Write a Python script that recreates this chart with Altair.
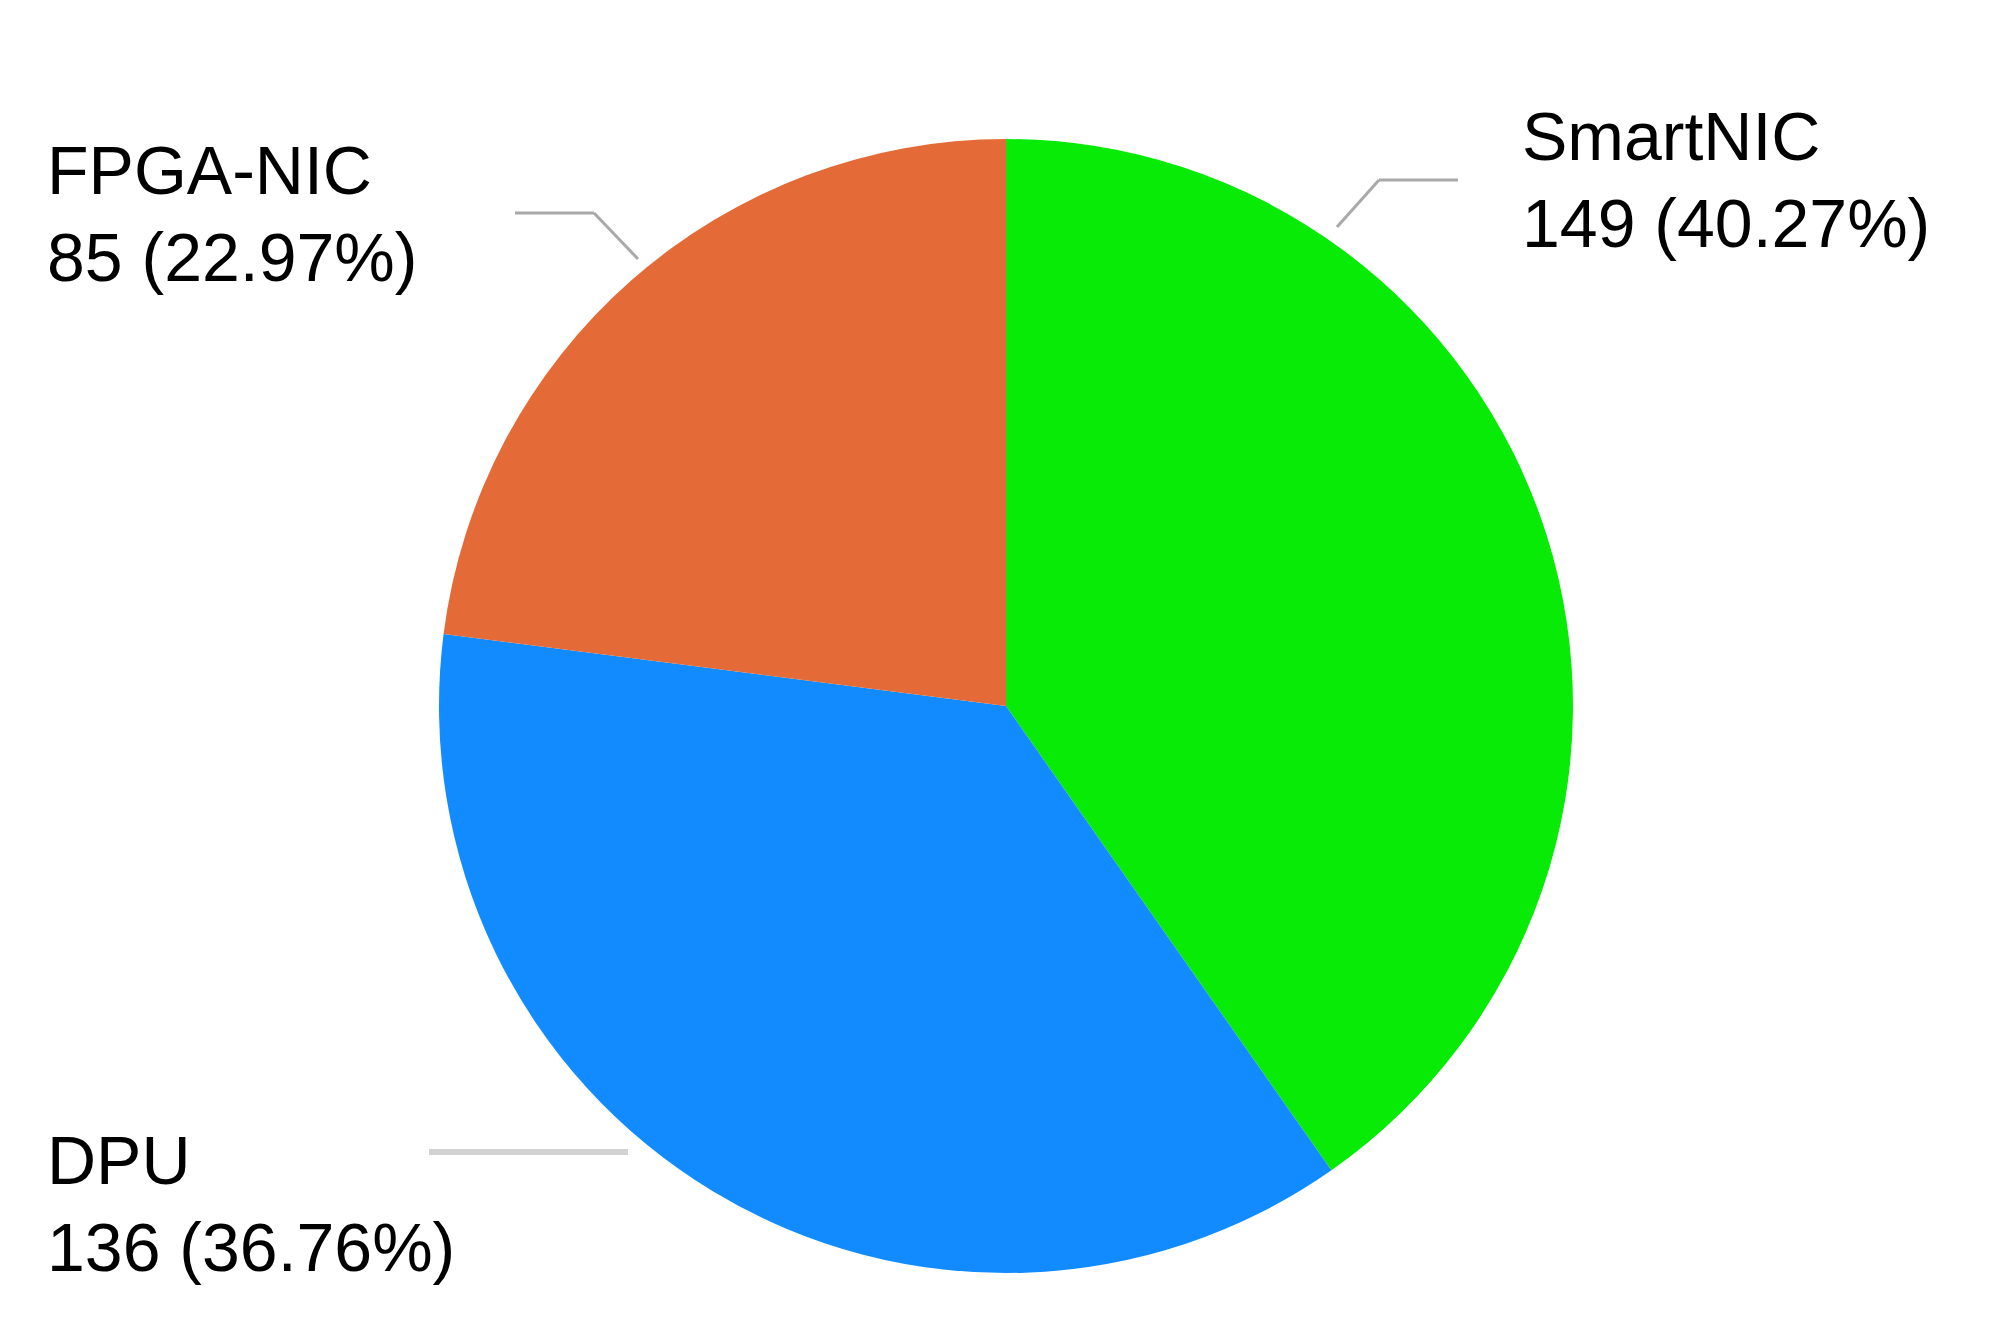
import altair as alt
import pandas as pd

# ---- data ----
categories = ["SmartNIC", "DPU", "FPGA-NIC"]
counts = [149, 136, 85]
colors = ["#07EB07", "#118BFF", "#E46B38"]

total = sum(counts)
df = pd.DataFrame({
    "category": categories,
    "count": counts,
    "order": list(range(len(categories))),
})
df["label"] = [f"{c}\n{v} ({v / total * 100:.2f}%)" for c, v in zip(categories, counts)]

# ---- layout (pixels inside the chart) ----
W, H = 1986, 1325
CX, CY, R = 998, 698, 567
label_pos = {"SmartNIC": (1514, 152), "DPU": (39, 1176), "FPGA-NIC": (39, 186)}
leader_segments = {
    "SmartNIC": [((1450, 172), (1371, 172)), ((1371, 172), (1329, 219))],
    "DPU": [((421, 1144), (620, 1144))],
    "FPGA-NIC": [((507, 205), (586, 205)), ((586, 205), (630, 251))],
}
leader_style = {"SmartNIC": ("#a9a9a9", 3), "DPU": ("#d2d2d2", 6), "FPGA-NIC": ("#a9a9a9", 3)}

base = alt.Chart(df)

pie = base.mark_arc(outerRadius=R).encode(
    theta=alt.Theta("count:Q", stack=True),
    color=alt.Color("category:N", scale=alt.Scale(domain=categories, range=colors), legend=None),
    order=alt.Order("order:Q"),
    x=alt.value(CX),
    y=alt.value(CY),
)

layers = [pie]
for cat in categories:
    col, sw = leader_style[cat]
    for (x1, y1), (x2, y2) in leader_segments[cat]:
        layers.append(
            base.transform_filter(alt.datum.category == cat)
            .mark_rule(color=col, strokeWidth=sw)
            .encode(x=alt.value(x1), y=alt.value(y1), x2=alt.value(x2), y2=alt.value(y2))
        )
    lx, ly = label_pos[cat]
    layers.append(
        base.transform_filter(alt.datum.category == cat)
        .mark_text(align="left", baseline="alphabetic", fontSize=68, font="Liberation Sans",
                   lineBreak="\n", lineHeight=87, color="black")
        .encode(text="label:N", x=alt.value(lx), y=alt.value(ly))
    )

chart = alt.layer(*layers).properties(
    width=W, height=H, padding=0, autosize=alt.AutoSizeParams(type="none"),
).configure_view(stroke=None)

chart.save("out.html", embed_options={"renderer": "svg", "actions": False})
